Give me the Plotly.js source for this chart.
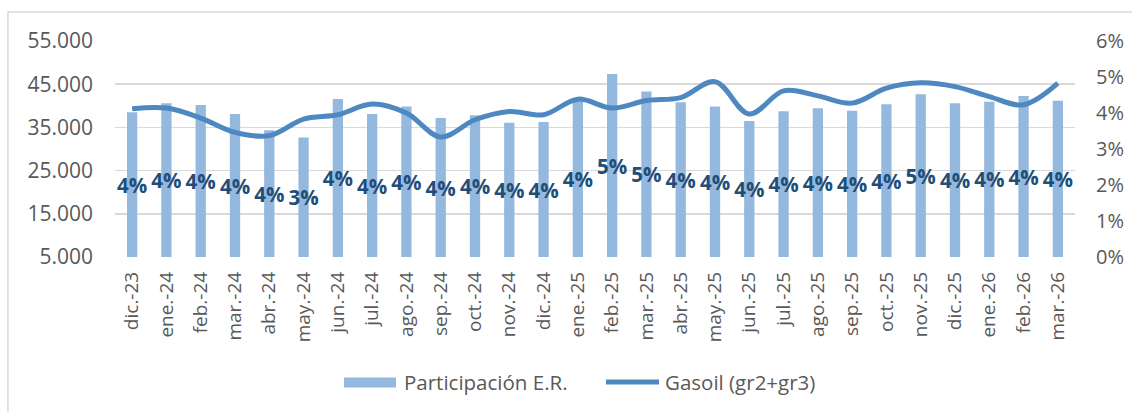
<!DOCTYPE html>
<html>
<head>
<meta charset="utf-8">
<script src="https://cdn.plot.ly/plotly-3.0.1.min.js"></script>
<style>html,body{margin:0;padding:0;background:#fff;}#chart{width:1132px;height:412px;}</style>
</head>
<body>
<div id="chart"></div>
<script>
const categories = ['dic.-23','ene.-24','feb.-24','mar.-24','abr.-24','may.-24','jun.-24','jul.-24','ago.-24','sep.-24','oct.-24','nov.-24','dic.-24','ene.-25','feb.-25','mar.-25','abr.-25','may.-25','jun.-25','jul.-25','ago.-25','sep.-25','oct.-25','nov.-25','dic.-25','ene.-26','feb.-26','mar.-26'];
const participacion = [0.0402,0.0427,0.0422,0.0397,0.0352,0.0332,0.0439,0.0397,0.0418,0.0386,0.0394,0.0373,0.0375,0.0436,0.0508,0.0460,0.0430,0.0418,0.0378,0.0405,0.0413,0.0406,0.0424,0.0452,0.0427,0.0431,0.0447,0.0434];
const gasoil = [39310,39470,37170,33850,33090,36930,37930,40390,38310,32780,36770,38690,37930,41540,39470,41220,41910,45600,38080,43460,42300,40620,44080,45320,44450,42140,40230,45230];
const seriesNames = ['Participación E.R.', 'Gasoil (gr2+gr3)'];

const barColor = '#95b8df';
const lineColor = '#4e88c0';
const fam = 'Open Sans, Noto Sans, sans-serif';
const tickFont = {family: fam, size: 21, color: '#595959'};

const traces = [
  {
    type: 'bar', name: seriesNames[0], x: categories, y: participacion,
    yaxis: 'y', width: 0.3, marker: {color: barColor},
    texttemplate: '%{y:.0%}', textposition: 'inside', insidetextanchor: 'middle',
    textangle: 0, constraintext: 'none', cliponaxis: false,
    textfont: {family: fam, size: 20.5, color: '#1f4e79', weight: 700},
    hoverinfo: 'skip', showlegend: false
  },
  {
    type: 'scatter', mode: 'lines', name: seriesNames[1], x: categories, y: gasoil,
    yaxis: 'y2', line: {color: lineColor, width: 5, shape: 'spline', smoothing: 1},
    hoverinfo: 'skip', showlegend: false
  }
];

const layout = {
  width: 1132, height: 412,
  margin: {l: 115, r: 57, t: 41, b: 155},
  paper_bgcolor: '#fff', plot_bgcolor: 'rgba(0,0,0,0)',
  separators: ',.',
  showlegend: false,
  xaxis: {
    type: 'category', range: [-0.5, 27.5], tickangle: -90,
    tickfont: {family: fam, size: 19, color: '#595959'},
    showgrid: false, zeroline: false, showline: false, ticks: '', ticklabelstandoff: 10
  },
  yaxis: {
    side: 'right', range: [0, 0.06], dtick: 0.01, tickformat: '.0%',
    showgrid: false, zeroline: false, showline: false, ticks: '',
    tickfont: {family: fam, size: 20, color: '#595959'}, ticklabelstandoff: 20
  },
  yaxis2: {
    overlaying: 'y', side: 'left', range: [5000, 55000], tick0: 5000, dtick: 10000,
    tickformat: ',d', showgrid: true, gridcolor: '#d9d9d9', gridwidth: 1.5,
    zeroline: false, showline: false, ticks: '', tickfont: tickFont, ticklabelstandoff: 21
  },
  shapes: [
    {type: 'rect', xref: 'paper', yref: 'paper', x0: -0.1115, x1: 1.08, y0: -0.8, y1: 1.134,
     line: {color: '#d9d9d9', width: 1.5}, fillcolor: 'rgba(0,0,0,0)', layer: 'below'},
    {type: 'rect', xref: 'paper', yref: 'paper', x0: 0.2385, x1: 0.2927, y0: -0.604, y1: -0.558,
     line: {width: 0}, fillcolor: barColor},
    {type: 'line', xref: 'paper', yref: 'paper', x0: 0.5115, x1: 0.5667, y0: -0.579, y1: -0.579,
     line: {color: lineColor, width: 5}}
  ],
  annotations: [
    {xref: 'paper', yref: 'paper', x: 0.299, y: -0.5765, xanchor: 'left', yanchor: 'middle',
     text: seriesNames[0], showarrow: false, font: {family: fam, size: 20.5, color: '#595959'}},
    {xref: 'paper', yref: 'paper', x: 0.5708, y: -0.5765, xanchor: 'left', yanchor: 'middle',
     text: seriesNames[1], showarrow: false, font: {family: fam, size: 20.5, color: '#595959'}}
  ]
};

Plotly.newPlot('chart', traces, layout, {staticPlot: true, displayModeBar: false});
</script>
</body>
</html>
